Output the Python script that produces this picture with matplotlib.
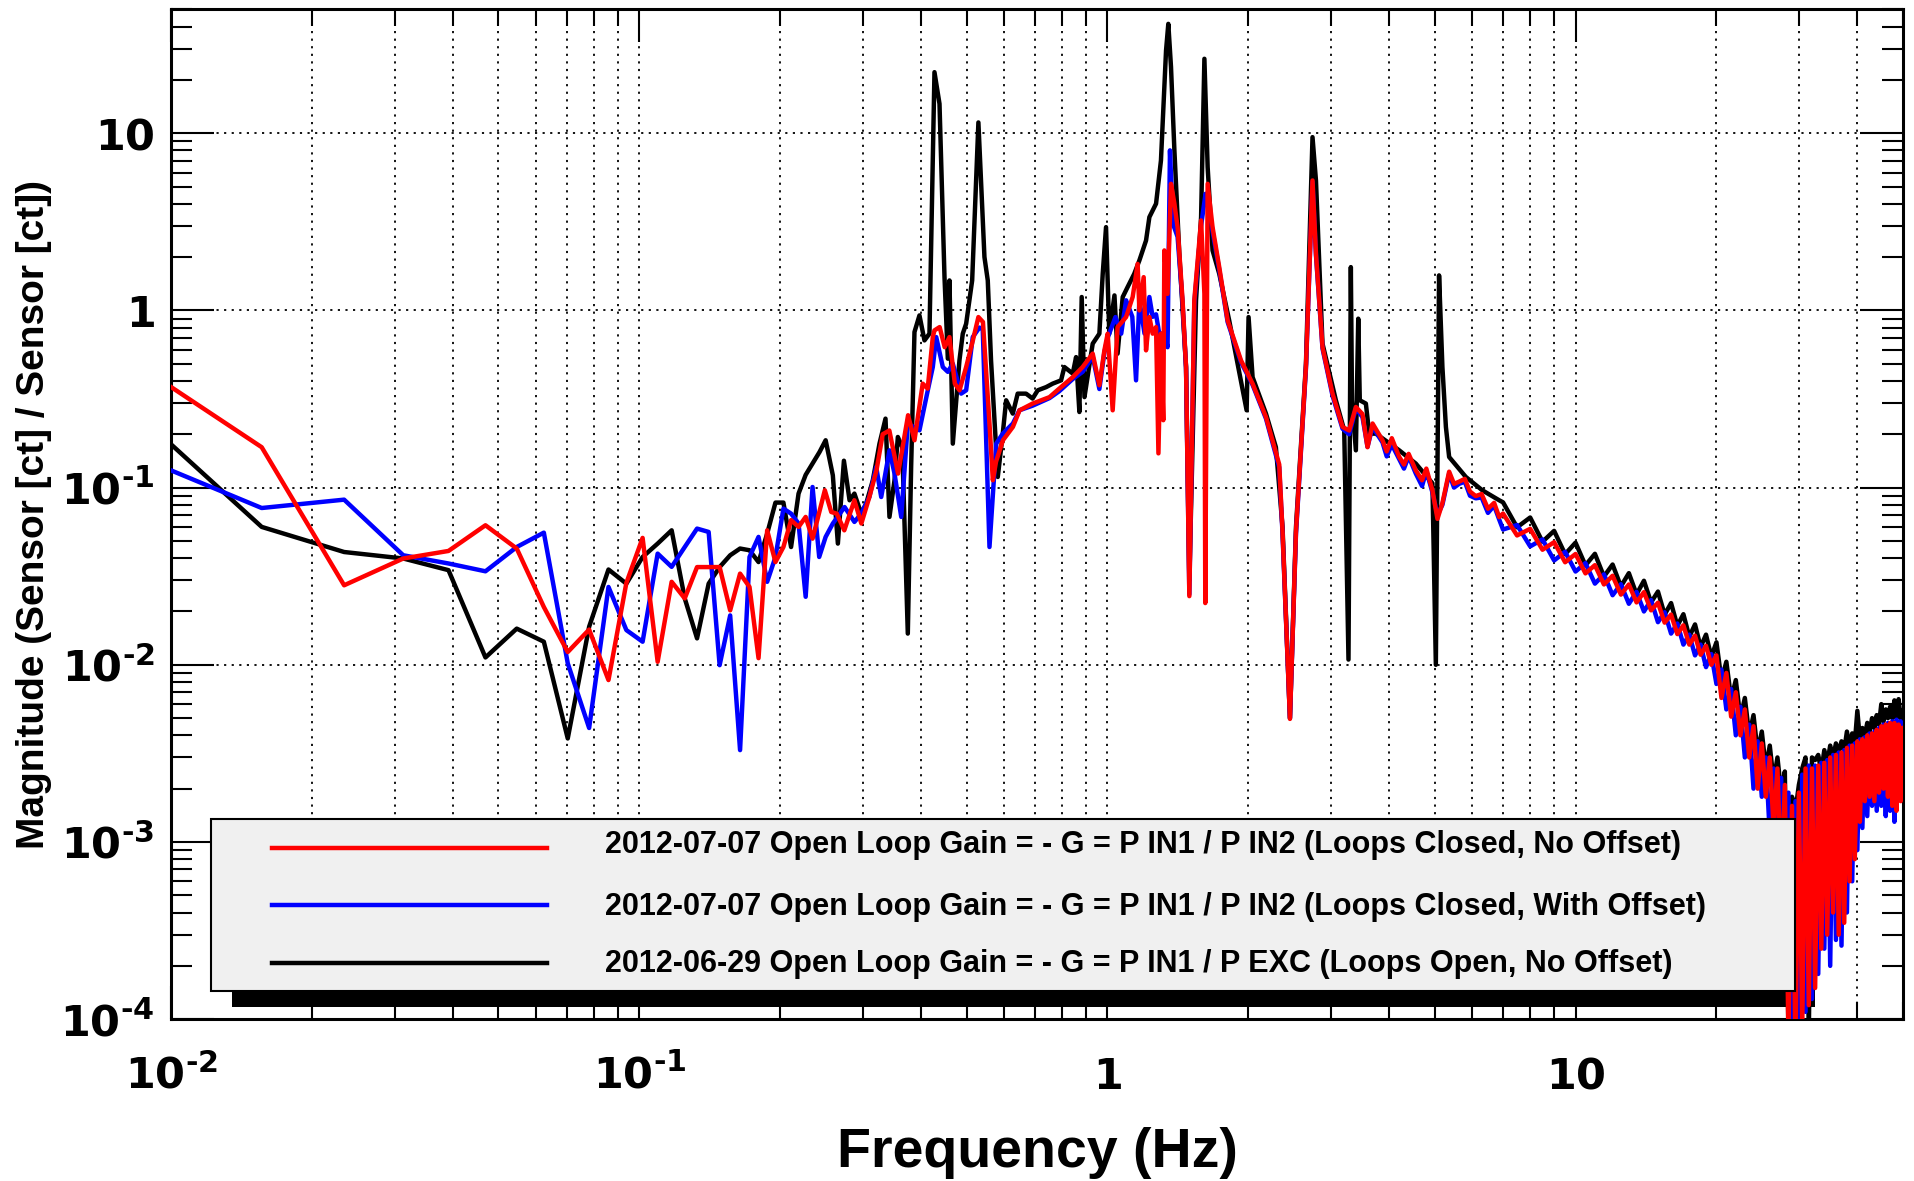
"""Open loop gain magnitude: three measurements on a log-log plot."""
import matplotlib
matplotlib.use("Agg")
import matplotlib.pyplot as plt
import matplotlib.ticker as mticker
from matplotlib.patches import Rectangle
from matplotlib.lines import Line2D
import numpy as np

# low frequency bins (Hz), shared by the three traces
bin_freq = [0.0078, 0.0156, 0.0234, 0.0313, 0.0391, 0.0469, 0.0547, 0.0625, 0.0703, 0.0781,
            0.0859, 0.0938, 0.1016, 0.1094, 0.1172, 0.1250, 0.1328, 0.1406, 0.1484, 0.1563,
            0.1641, 0.1719, 0.1797, 0.1875, 0.1953, 0.2031, 0.2109, 0.2188, 0.2266, 0.2344]

red_bins = [0.57, 0.169, 0.0281, 0.0398, 0.0439, 0.0613, 0.0453, 0.0212, 0.0118, 0.0158,
            0.0082, 0.029, 0.052, 0.0104, 0.0294, 0.0237, 0.0356, 0.0356, 0.0356, 0.0203,
            0.0327, 0.0275, 0.0109, 0.0574, 0.038, 0.0462, 0.0655, 0.060, 0.0683, 0.0515]

blue_bins = [0.164, 0.0767, 0.0855, 0.0415, 0.0373, 0.0337, 0.0462, 0.0557, 0.0102, 0.0044,
             0.0275, 0.0157, 0.0135, 0.0424, 0.0357, 0.0462, 0.0587, 0.0562, 0.00995, 0.019,
             0.0033, 0.0406, 0.0527, 0.0294, 0.0406, 0.0761, 0.0713, 0.0627, 0.0242, 0.1008]

black_bins = [0.318, 0.060, 0.0433, 0.0398, 0.0342, 0.0110, 0.0160, 0.0135, 0.00384, 0.0164,
              0.0345, 0.0287, 0.0406, 0.0483, 0.0574, 0.0237, 0.0141, 0.0287, 0.0356, 0.0415,
              0.0453, 0.0443, 0.038, 0.055, 0.0823, 0.0823, 0.0462, 0.0925, 0.118, 0.1366]

# resonance region (0.24 - 7 Hz)
red_mid_freq = [0.249, 0.257, 0.264, 0.274, 0.288, 0.298, 0.310, 0.321, 0.331, 0.342,
                0.357, 0.375, 0.387, 0.403, 0.413, 0.4235, 0.427, 0.438, 0.449, 0.4597,
                0.472, 0.483, 0.499, 0.516, 0.530, 0.542, 0.5597, 0.569, 0.578, 0.598,
                0.628, 0.649, 0.692, 0.752, 0.789, 0.843, 0.885, 0.930, 0.961, 0.985,
                1.001, 1.026, 1.051, 1.096, 1.132, 1.160, 1.170, 1.195, 1.209, 1.229,
                1.249, 1.270, 1.285, 1.301, 1.316, 1.323, 1.344, 1.367, 1.39, 1.412,
                1.447, 1.472, 1.496, 1.533, 1.585, 1.611, 1.618, 1.637, 1.677, 1.733,
                1.806, 1.929, 2.042, 2.181, 2.328, 2.366, 2.454, 2.528, 2.655, 2.742,
                2.789, 2.88, 3.026, 3.178, 3.284, 3.394, 3.506, 3.594, 3.684, 3.869,
                3.95, 4.05, 4.2, 4.3, 4.4, 4.558, 4.7, 4.8, 4.946, 5.07,
                5.195, 5.37, 5.5, 5.64, 5.8, 5.95, 6.12, 6.3, 6.5, 6.7,
                6.87]
red_mid = [0.0966, 0.0728, 0.0713, 0.0574, 0.0848, 0.0627, 0.0885, 0.125, 0.20, 0.21,
           0.12, 0.256, 0.185, 0.386, 0.362, 0.707, 0.771, 0.805, 0.62, 0.707,
           0.386, 0.354, 0.479, 0.68, 0.917, 0.86, 0.23, 0.11, 0.14, 0.185,
           0.22, 0.273, 0.298, 0.324, 0.362, 0.42, 0.479, 0.57, 0.378, 0.595,
           0.739, 0.273, 0.805, 0.917, 1.19, 1.83, 1.0, 1.54, 0.595, 0.917,
           0.739, 0.805, 0.156, 0.739, 0.24, 2.18, 1.24, 5.18, 4.0, 2.95,
           1.14, 0.479, 0.0244, 1.14, 3.22, 1.24, 0.0223, 5.18, 2.95, 1.755,
           0.878, 0.522, 0.386, 0.25, 0.135, 0.0568, 0.00495, 0.0568, 0.484, 5.41,
           2.09, 0.621, 0.339, 0.22, 0.21, 0.285, 0.26, 0.169, 0.23, 0.185,
           0.16, 0.19, 0.149, 0.135, 0.155, 0.125, 0.11, 0.128, 0.0966, 0.0666,
           0.0818, 0.123, 0.105, 0.108, 0.112, 0.095, 0.0896, 0.092, 0.076, 0.082,
           0.0681]

blue_mid_freq = [0.2422, 0.25, 0.259, 0.2744, 0.288, 0.2978, 0.310, 0.3206, 0.3286, 0.3422,
                 0.3508, 0.3626, 0.3745, 0.3966, 0.4132, 0.4235, 0.4307, 0.4449, 0.456, 0.4673,
                 0.4869, 0.499, 0.5155, 0.5327, 0.5415, 0.5597, 0.5785, 0.5975, 0.628, 0.6485,
                 0.692, 0.752, 0.789, 0.843, 0.885, 0.930, 0.961, 0.985, 1.001, 1.04,
                 1.07, 1.096, 1.13, 1.151, 1.17, 1.2, 1.229, 1.249, 1.27, 1.29,
                 1.323, 1.344, 1.36, 1.38, 1.412, 1.447, 1.472, 1.496, 1.533, 1.585,
                 1.62, 1.637, 1.677, 1.733, 1.806, 1.929, 2.042, 2.181, 2.328, 2.366,
                 2.454, 2.528, 2.655, 2.742, 2.789, 2.88, 3.026, 3.178, 3.284, 3.394,
                 3.506, 3.594, 3.684, 3.869, 3.95, 4.05, 4.2, 4.3, 4.4, 4.558,
                 4.7, 4.8, 4.946, 5.07, 5.195, 5.37, 5.5, 5.64, 5.8, 5.95,
                 6.12, 6.3, 6.5, 6.7, 6.87]
blue_mid = [0.0406, 0.0527, 0.0627, 0.0777, 0.064, 0.0713, 0.0885, 0.1307, 0.0885, 0.1623,
            0.12, 0.0683, 0.2296, 0.2105, 0.354, 0.479, 0.707, 0.479, 0.45, 0.5,
            0.339, 0.354, 0.707, 0.8, 0.78, 0.0462, 0.177, 0.2016, 0.23, 0.273,
            0.29, 0.32, 0.35, 0.41, 0.45, 0.55, 0.36, 0.58, 0.70, 0.917,
            0.739, 1.14, 0.92, 0.403, 1.14, 0.74, 1.19, 0.92, 0.95, 0.74,
            0.74, 0.62, 8.0, 3.08, 2.6, 1.1, 0.47, 0.025, 1.1, 3.0,
            4.55, 4.2, 2.8, 1.7, 0.86, 0.51, 0.38, 0.245, 0.13, 0.055,
            0.005, 0.055, 0.47, 5.3, 2.05, 0.61, 0.33, 0.215, 0.2, 0.28,
            0.25, 0.17, 0.22, 0.18, 0.15, 0.175, 0.145, 0.128, 0.15, 0.12,
            0.102, 0.124, 0.094, 0.07, 0.08, 0.12, 0.1, 0.105, 0.108, 0.09,
            0.087, 0.088, 0.072, 0.079, 0.066]

black_mid_freq = [0.2426, 0.25, 0.259, 0.2655, 0.2735, 0.2812, 0.288, 0.2978, 0.3052, 0.3153,
                  0.3258, 0.3356, 0.3422, 0.3508, 0.3566, 0.3644, 0.3745, 0.3807, 0.387, 0.3966,
                  0.4065, 0.4166, 0.427, 0.4377, 0.4486, 0.456, 0.4597, 0.4673, 0.4828, 0.4908,
                  0.499, 0.514, 0.530, 0.546, 0.555, 0.564, 0.583, 0.5975, 0.6075, 0.6277,
                  0.643, 0.67, 0.692, 0.7096, 0.7396, 0.7638, 0.796, 0.809, 0.843, 0.857,
                  0.871, 0.881, 0.893, 0.930, 0.961, 0.977, 0.993, 1.009, 1.035, 1.051,
                  1.078, 1.104, 1.141, 1.170, 1.209, 1.229, 1.27, 1.301, 1.334, 1.349,
                  1.367, 1.39, 1.424, 1.472, 1.496, 1.546, 1.585, 1.611, 1.637, 1.677,
                  1.733, 1.82, 1.983, 2.002, 2.042, 2.181, 2.29, 2.366, 2.454, 2.528,
                  2.655, 2.742, 2.789, 2.88, 3.076, 3.205, 3.273, 3.311, 3.33, 3.394,
                  3.434, 3.46, 3.565, 3.624, 3.745, 4.2, 4.558, 4.946, 5.03, 5.11,
                  5.195, 5.285, 5.37, 5.83, 6.32, 6.87]
black_mid = [0.1588, 0.185, 0.1173, 0.0483, 0.1418, 0.0848, 0.0925, 0.0713, 0.0813, 0.110,
             0.177, 0.245, 0.0683, 0.110, 0.193, 0.169, 0.015, 0.1307, 0.755, 0.937,
             0.677, 0.739, 22.1, 14.65, 1.54, 0.534, 1.476, 0.177, 0.522, 0.739,
             0.841, 1.476, 11.5, 2.0, 1.476, 0.522, 0.1148, 0.2016, 0.311, 0.2615,
             0.339, 0.339, 0.318, 0.354, 0.369, 0.386, 0.403, 0.479, 0.44, 0.545,
             0.267, 1.19, 0.324, 0.649, 0.739, 1.61, 2.95, 0.739, 1.215, 0.57,
             1.19, 1.353, 1.61, 1.914, 2.48, 3.36, 4.0, 7.01, 29.3, 41.4,
             23.6, 7.99, 2.09, 0.479, 0.03, 1.139, 3.36, 26.3, 6.43, 2.18,
             1.61, 0.878, 0.273, 0.917, 0.42, 0.2615, 0.169, 0.06, 0.005, 0.06,
             0.5, 9.5, 5.41, 0.65, 0.311, 0.2105, 0.0107, 1.755, 0.311, 0.1623,
             0.898, 0.311, 0.298, 0.2016, 0.2016, 0.1623, 0.1366, 0.1058, 0.01, 1.576,
             0.479, 0.22, 0.1488, 0.1148, 0.0966, 0.0848]

# high frequency roll-off (7 - 50 Hz), noisy band
hi_freq = [7.0, 7.5, 8.0, 8.5, 9.0, 9.5, 10.0, 10.5, 11.0, 11.5,
           12.0, 12.5, 13.0, 13.5, 14.0, 14.5, 15.0, 15.5, 16.0, 16.5,
           17.0, 17.5, 18.0, 18.5, 19.0, 19.5, 20.0, 20.5, 21.0, 21.5,
           22.0, 22.5, 23.0, 23.5, 24.0, 24.5, 25.0, 25.5, 26.0, 26.5,
           27.0, 27.5, 28.0, 28.5, 29.0, 29.5, 30.0, 30.5, 31.0, 31.5,
           32.0, 32.5, 33.0, 33.5, 34.0, 34.5, 35.0, 35.5, 36.0, 36.5,
           37.0, 37.5, 38.0, 38.5, 39.0, 39.5, 40.0, 40.5, 41.0, 41.5,
           42.0, 42.5, 43.0, 43.5, 44.0, 44.5, 45.0, 45.5, 46.0, 46.5,
           47.0, 47.5, 48.0, 48.5, 49.0, 49.5, 50.0]
red_hi = [0.0714, 0.0537, 0.0585, 0.0446, 0.0492, 0.0379, 0.0422, 0.0328, 0.0365, 0.0284,
          0.0318, 0.0249, 0.0284, 0.0225, 0.0257, 0.0203, 0.0224, 0.0173, 0.0192, 0.0149,
          0.0167, 0.0130, 0.0146, 0.0114, 0.0128, 0.0100, 0.0113, 0.0065, 0.0090, 0.0051,
          0.0070, 0.0040, 0.0056, 0.0030, 0.0045, 0.0020, 0.0036, 0.0018, 0.0030, 0.0012,
          0.0026, 0.0006, 0.0021, 0.00008, 0.0016, 0.00007, 0.0019, 0.00009, 0.0026, 0.00012,
          0.0026, 0.00015, 0.0027, 0.00025, 0.0028, 0.0003, 0.0030, 0.0004, 0.0031, 0.0003,
          0.0032, 0.00035, 0.0034, 0.0006, 0.0035, 0.0008, 0.0037, 0.0013, 0.0038, 0.0017,
          0.0040, 0.0018, 0.0041, 0.0017, 0.0043, 0.0019, 0.0045, 0.0020, 0.0046, 0.0018,
          0.0047, 0.0016, 0.0047, 0.0015, 0.0046, 0.0017, 0.0044]
blue_hi = [0.0580, 0.0615, 0.0466, 0.0510, 0.0388, 0.0434, 0.0336, 0.0375, 0.0287, 0.0324,
           0.0247, 0.0285, 0.0221, 0.0258, 0.0200, 0.0232, 0.0174, 0.0198, 0.0150, 0.0171,
           0.0130, 0.0148, 0.0113, 0.0130, 0.0097, 0.0115, 0.0078, 0.0094, 0.0056, 0.0073,
           0.0040, 0.0058, 0.0030, 0.0046, 0.0020, 0.0037, 0.0018, 0.0030, 0.0011, 0.0026,
           0.0007, 0.0023, 0.0002, 0.0019, 0.00006, 0.0017, 0.00008, 0.0024, 0.00011, 0.0027,
           0.00013, 0.0027, 0.00018, 0.0028, 0.00025, 0.0029, 0.0002, 0.0031, 0.00028, 0.0032,
           0.00026, 0.0033, 0.0004, 0.0035, 0.0006, 0.0036, 0.0009, 0.0038, 0.0012, 0.0039,
           0.0014, 0.0041, 0.0016, 0.0042, 0.0015, 0.0044, 0.0016, 0.0046, 0.0014, 0.0047,
           0.0015, 0.0048, 0.0013, 0.0049, 0.0022, 0.0048, 0.0020]
black_hi = [0.0826, 0.0597, 0.0678, 0.0495, 0.0570, 0.0421, 0.0489, 0.0364, 0.0423, 0.0315,
            0.0368, 0.0277, 0.0329, 0.0250, 0.0298, 0.0225, 0.0259, 0.0192, 0.0223, 0.0166,
            0.0193, 0.0144, 0.0169, 0.0126, 0.0148, 0.0111, 0.0134, 0.0082, 0.0104, 0.0064,
            0.0082, 0.0050, 0.0065, 0.0040, 0.0052, 0.0032, 0.0042, 0.0026, 0.0035, 0.0022,
            0.0030, 0.0019, 0.0025, 0.00008, 0.0018, 0.0015, 0.0021, 0.0026, 0.0030, 0.00008,
            0.0030, 0.0029, 0.0031, 0.0025, 0.0033, 0.0028, 0.0035, 0.0030, 0.0036, 0.0032,
            0.0037, 0.0033, 0.0042, 0.0034, 0.0041, 0.0036, 0.0055, 0.0038, 0.0044, 0.0040,
            0.0047, 0.0042, 0.0050, 0.0044, 0.0052, 0.0046, 0.0060, 0.0048, 0.0056, 0.0050,
            0.0058, 0.0050, 0.0063, 0.0051, 0.0064, 0.0050, 0.0055]

labels = [
    "2012-07-07 Open Loop Gain = - G = P IN1 / P IN2 (Loops Closed, No Offset)",
    "2012-07-07 Open Loop Gain = - G = P IN1 / P IN2 (Loops Closed, With Offset)",
    "2012-06-29 Open Loop Gain = - G = P IN1 / P EXC (Loops Open, No Offset)",
]
colors = ["#ff0000", "#0000ff", "#000000"]

red_f = bin_freq + red_mid_freq + hi_freq
red_m = red_bins + red_mid + red_hi
blue_f = bin_freq + blue_mid_freq + hi_freq
blue_m = blue_bins + blue_mid + blue_hi
black_f = bin_freq + black_mid_freq + hi_freq
black_m = black_bins + black_mid + black_hi

LABEL_FONT = "Liberation Sans"

fig = plt.figure(figsize=(19.14, 11.81), dpi=100)
ax = fig.add_axes([0.0895, 0.1370, 0.9046, 0.8551])

lw = 3.2
ax.plot(black_f, black_m, color=colors[2], linewidth=lw, zorder=3)
ax.plot(blue_f, blue_m, color=colors[1], linewidth=lw, zorder=4)
ax.plot(red_f, red_m, color=colors[0], linewidth=lw, zorder=5)

ax.set_xscale("log")
ax.set_yscale("log")
ax.set_xlim(0.01, 50)
ax.set_ylim(1e-4, 50)

# ticks (short hyphen in the exponents, like the original)
hy = "\u2010"
ax.set_xticks([0.01, 0.1, 1, 10])
ax.set_xticklabels([rf"$\mathbf{{10^{{{hy}2}}}}$", rf"$\mathbf{{10^{{{hy}1}}}}$",
                    r"$\mathbf{1}$", r"$\mathbf{10}$"])
ax.set_yticks([1e-4, 1e-3, 1e-2, 1e-1, 1, 10])
ax.set_yticklabels([rf"$\mathbf{{10^{{{hy}4}}}}$", rf"$\mathbf{{10^{{{hy}3}}}}$",
                    rf"$\mathbf{{10^{{{hy}2}}}}$", rf"$\mathbf{{10^{{{hy}1}}}}$",
                    r"$\mathbf{1}$", r"$\mathbf{10}$"])
for axis in (ax.xaxis, ax.yaxis):
    axis.set_minor_locator(mticker.LogLocator(base=10, subs=np.arange(2, 10), numticks=50))
    axis.set_minor_formatter(mticker.NullFormatter())

ax.tick_params(which="both", direction="in", top=True, right=True, width=1.5, labelsize=31)
ax.tick_params(axis="x", which="major", length=24, pad=50)
ax.tick_params(axis="x", which="minor", length=12)
ax.tick_params(axis="y", which="major", length=31, pad=12)
ax.tick_params(axis="y", which="minor", length=15)
for lab in ax.get_xticklabels():
    lab.set_verticalalignment("baseline")

for sp in ax.spines.values():
    sp.set_linewidth(2.2)

grid_style = dict(color="black", linestyle=(0, (1.2, 3.0)), linewidth=1.3)
ax.grid(True, which="both", axis="x", **grid_style)
ax.grid(True, which="major", axis="y", **grid_style)

ax.set_xlabel("Frequency (Hz)", fontsize=40, fontweight="bold", family=LABEL_FONT)
ax.xaxis.set_label_coords(0.5, -0.107)
ax.set_ylabel("Magnitude (Sensor [ct] / Sensor [ct])", fontsize=28, fontweight="bold",
              family=LABEL_FONT)
ax.yaxis.set_label_coords(-0.069, 0.5)

# legend box with a hard black shadow
bx, by, bw, bh = 0.0232, 0.0282, 0.9146, 0.1697
ax.add_patch(Rectangle((bx + 0.0116, by - 0.0162), bw, bh, transform=ax.transAxes,
                       facecolor="black", edgecolor="none", zorder=1.8, clip_on=False))
ax.add_patch(Rectangle((bx, by), bw, bh, transform=ax.transAxes, facecolor="#f0f0f0",
                       edgecolor="black", linewidth=1.5, zorder=9, clip_on=False))
line_rows = [0.1698, 0.1128, 0.0559]
text_rows = [0.1642, 0.1031, 0.0470]
for lab, col, ly, ty in zip(labels, colors, line_rows, text_rows):
    ax.add_line(Line2D([0.058, 0.2172], [ly, ly], transform=ax.transAxes, color=col,
                       linewidth=lw, zorder=10, clip_on=False))
    ax.text(0.2503, ty, lab, transform=ax.transAxes, fontsize=22, fontweight="bold",
            family=LABEL_FONT, ha="left", va="baseline", zorder=11)

fig.savefig("out.png", dpi=100)
plt.close(fig)
